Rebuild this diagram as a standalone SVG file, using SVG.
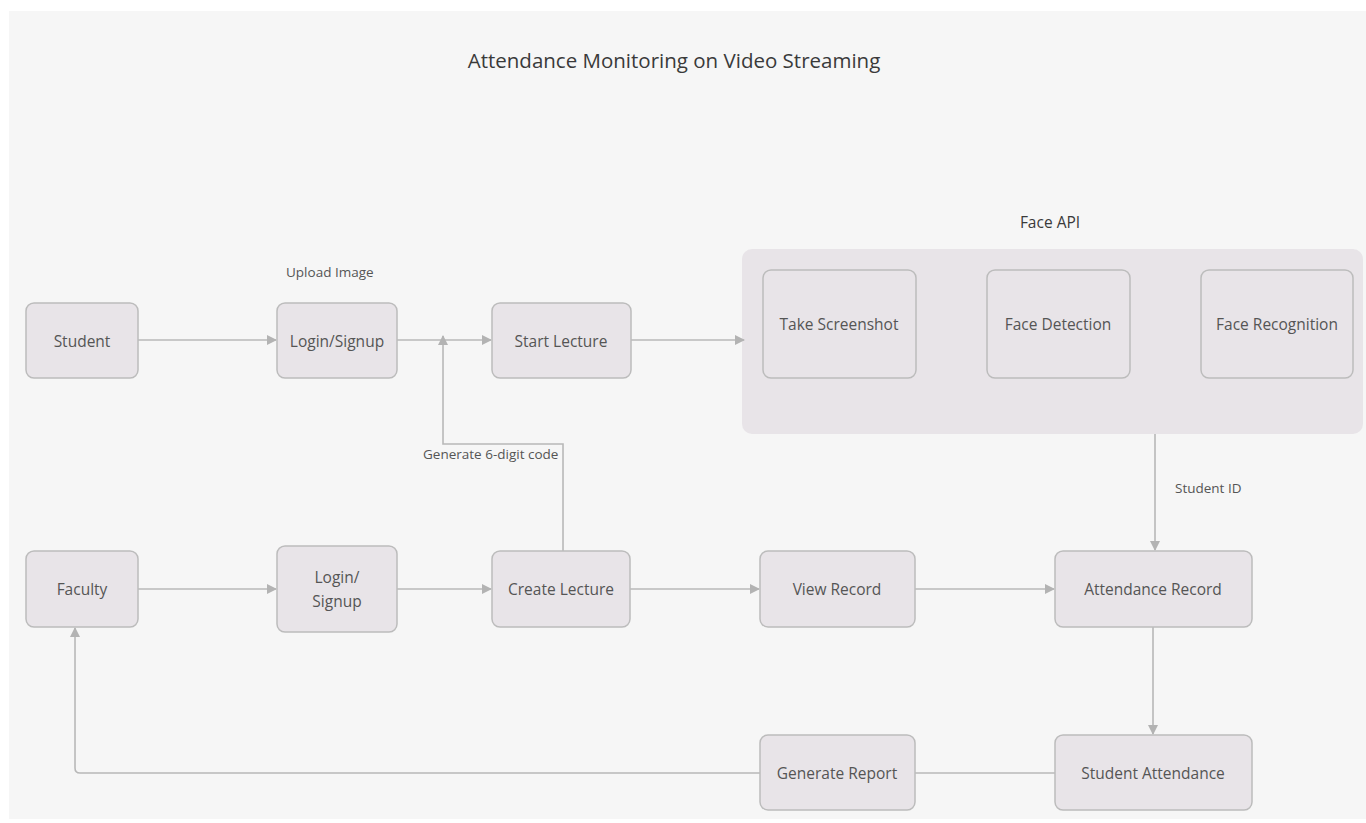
<svg xmlns="http://www.w3.org/2000/svg" width="1366" height="823" viewBox="0 0 1366 823">
<defs>
<marker id="arr" viewBox="0 0 10 10" refX="9" refY="5" markerWidth="10" markerHeight="10" markerUnits="userSpaceOnUse" orient="auto">
<path d="M0,0 L10,5 L0,10 z" fill="#b3b3b3"/>
</marker>
<style>
.node rect{fill:#e8e4e8;stroke:#bcbcbc;stroke-width:1.5}
.lbl{font-family:"Open Sans","Noto Sans",sans-serif;fill:#555;font-size:15.5px;text-anchor:middle;dominant-baseline:central}
.small{font-family:"Open Sans","Noto Sans",sans-serif;fill:#555;font-size:13.5px}
.conn path{fill:none;stroke:#b8b8b8;stroke-width:1.6}
</style>
</defs>
<rect width="1366" height="823" fill="#ffffff"/>
<rect x="9" y="11" width="1357" height="808" fill="#f6f6f6"/>
<text x="674" y="60" class="lbl" style="font-size:20.5px;fill:#3a3a3a">Attendance Monitoring on Video Streaming</text>

<g id="faceapi">
<rect x="742" y="249" width="621" height="185" rx="10" fill="#e8e4e8"/>
<text x="1050" y="222" class="lbl" style="font-size:15.5px;fill:#3a3a3a">Face API</text>
</g>

<g id="connectors" class="conn">
<path d="M138,340 H276" marker-end="url(#arr)"/>
<path d="M397,340 H491" marker-end="url(#arr)"/>
<path d="M631,340 H744" marker-end="url(#arr)"/>
<path d="M563,551 V444 H443 V336" marker-end="url(#arr)"/>
<path d="M1155,434 V550" marker-end="url(#arr)"/>
<path d="M138,589 H276" marker-end="url(#arr)"/>
<path d="M397,589 H491" marker-end="url(#arr)"/>
<path d="M630,589 H759" marker-end="url(#arr)"/>
<path d="M915,589 H1054" marker-end="url(#arr)"/>
<path d="M1153,627 V734" marker-end="url(#arr)"/>
<path d="M1055,773 H915"/>
<path d="M760,773 H80 Q75,773 75,768 V628" marker-end="url(#arr)"/>
</g>
<text x="286" y="277" class="small">Upload Image</text>
<text x="423" y="459" class="small">Generate 6-digit code</text>
<text x="1175" y="493" class="small">Student ID</text>

<g id="student" class="node"><rect x="26" y="303" width="112" height="75" rx="8"/><text x="82" y="341" class="lbl">Student</text></g>
<g id="login1" class="node"><rect x="277" y="303" width="120" height="75" rx="8"/><text x="337" y="341" class="lbl">Login/Signup</text></g>
<g id="startlecture" class="node"><rect x="492" y="303" width="139" height="75" rx="8"/><text x="561" y="341" class="lbl">Start Lecture</text></g>
<g id="screenshot" class="node"><rect x="763" y="270" width="153" height="108" rx="8"/><text x="839" y="324" class="lbl">Take Screenshot</text></g>
<g id="detection" class="node"><rect x="987" y="270" width="143" height="108" rx="8"/><text x="1058" y="324" class="lbl">Face Detection</text></g>
<g id="recognition" class="node"><rect x="1201" y="270" width="152" height="108" rx="8"/><text x="1277" y="324" class="lbl">Face Recognition</text></g>
<g id="faculty" class="node"><rect x="26" y="551" width="112" height="76" rx="8"/><text x="82" y="589" class="lbl">Faculty</text></g>
<g id="login2" class="node"><rect x="277" y="546" width="120" height="86" rx="8"/><text x="337" y="577" class="lbl">Login/</text><text x="337" y="601" class="lbl">Signup</text></g>
<g id="createlecture" class="node"><rect x="492" y="551" width="138" height="76" rx="8"/><text x="561" y="589" class="lbl">Create Lecture</text></g>
<g id="viewrecord" class="node"><rect x="760" y="551" width="155" height="76" rx="8"/><text x="837" y="589" class="lbl">View Record</text></g>
<g id="attendancerecord" class="node"><rect x="1055" y="551" width="197" height="76" rx="8"/><text x="1153" y="589" class="lbl">Attendance Record</text></g>
<g id="generatereport" class="node"><rect x="760" y="735" width="155" height="75" rx="8"/><text x="837" y="773" class="lbl">Generate Report</text></g>
<g id="studentattendance" class="node"><rect x="1055" y="735" width="197" height="75" rx="8"/><text x="1153" y="773" class="lbl">Student Attendance</text></g>
</svg>
